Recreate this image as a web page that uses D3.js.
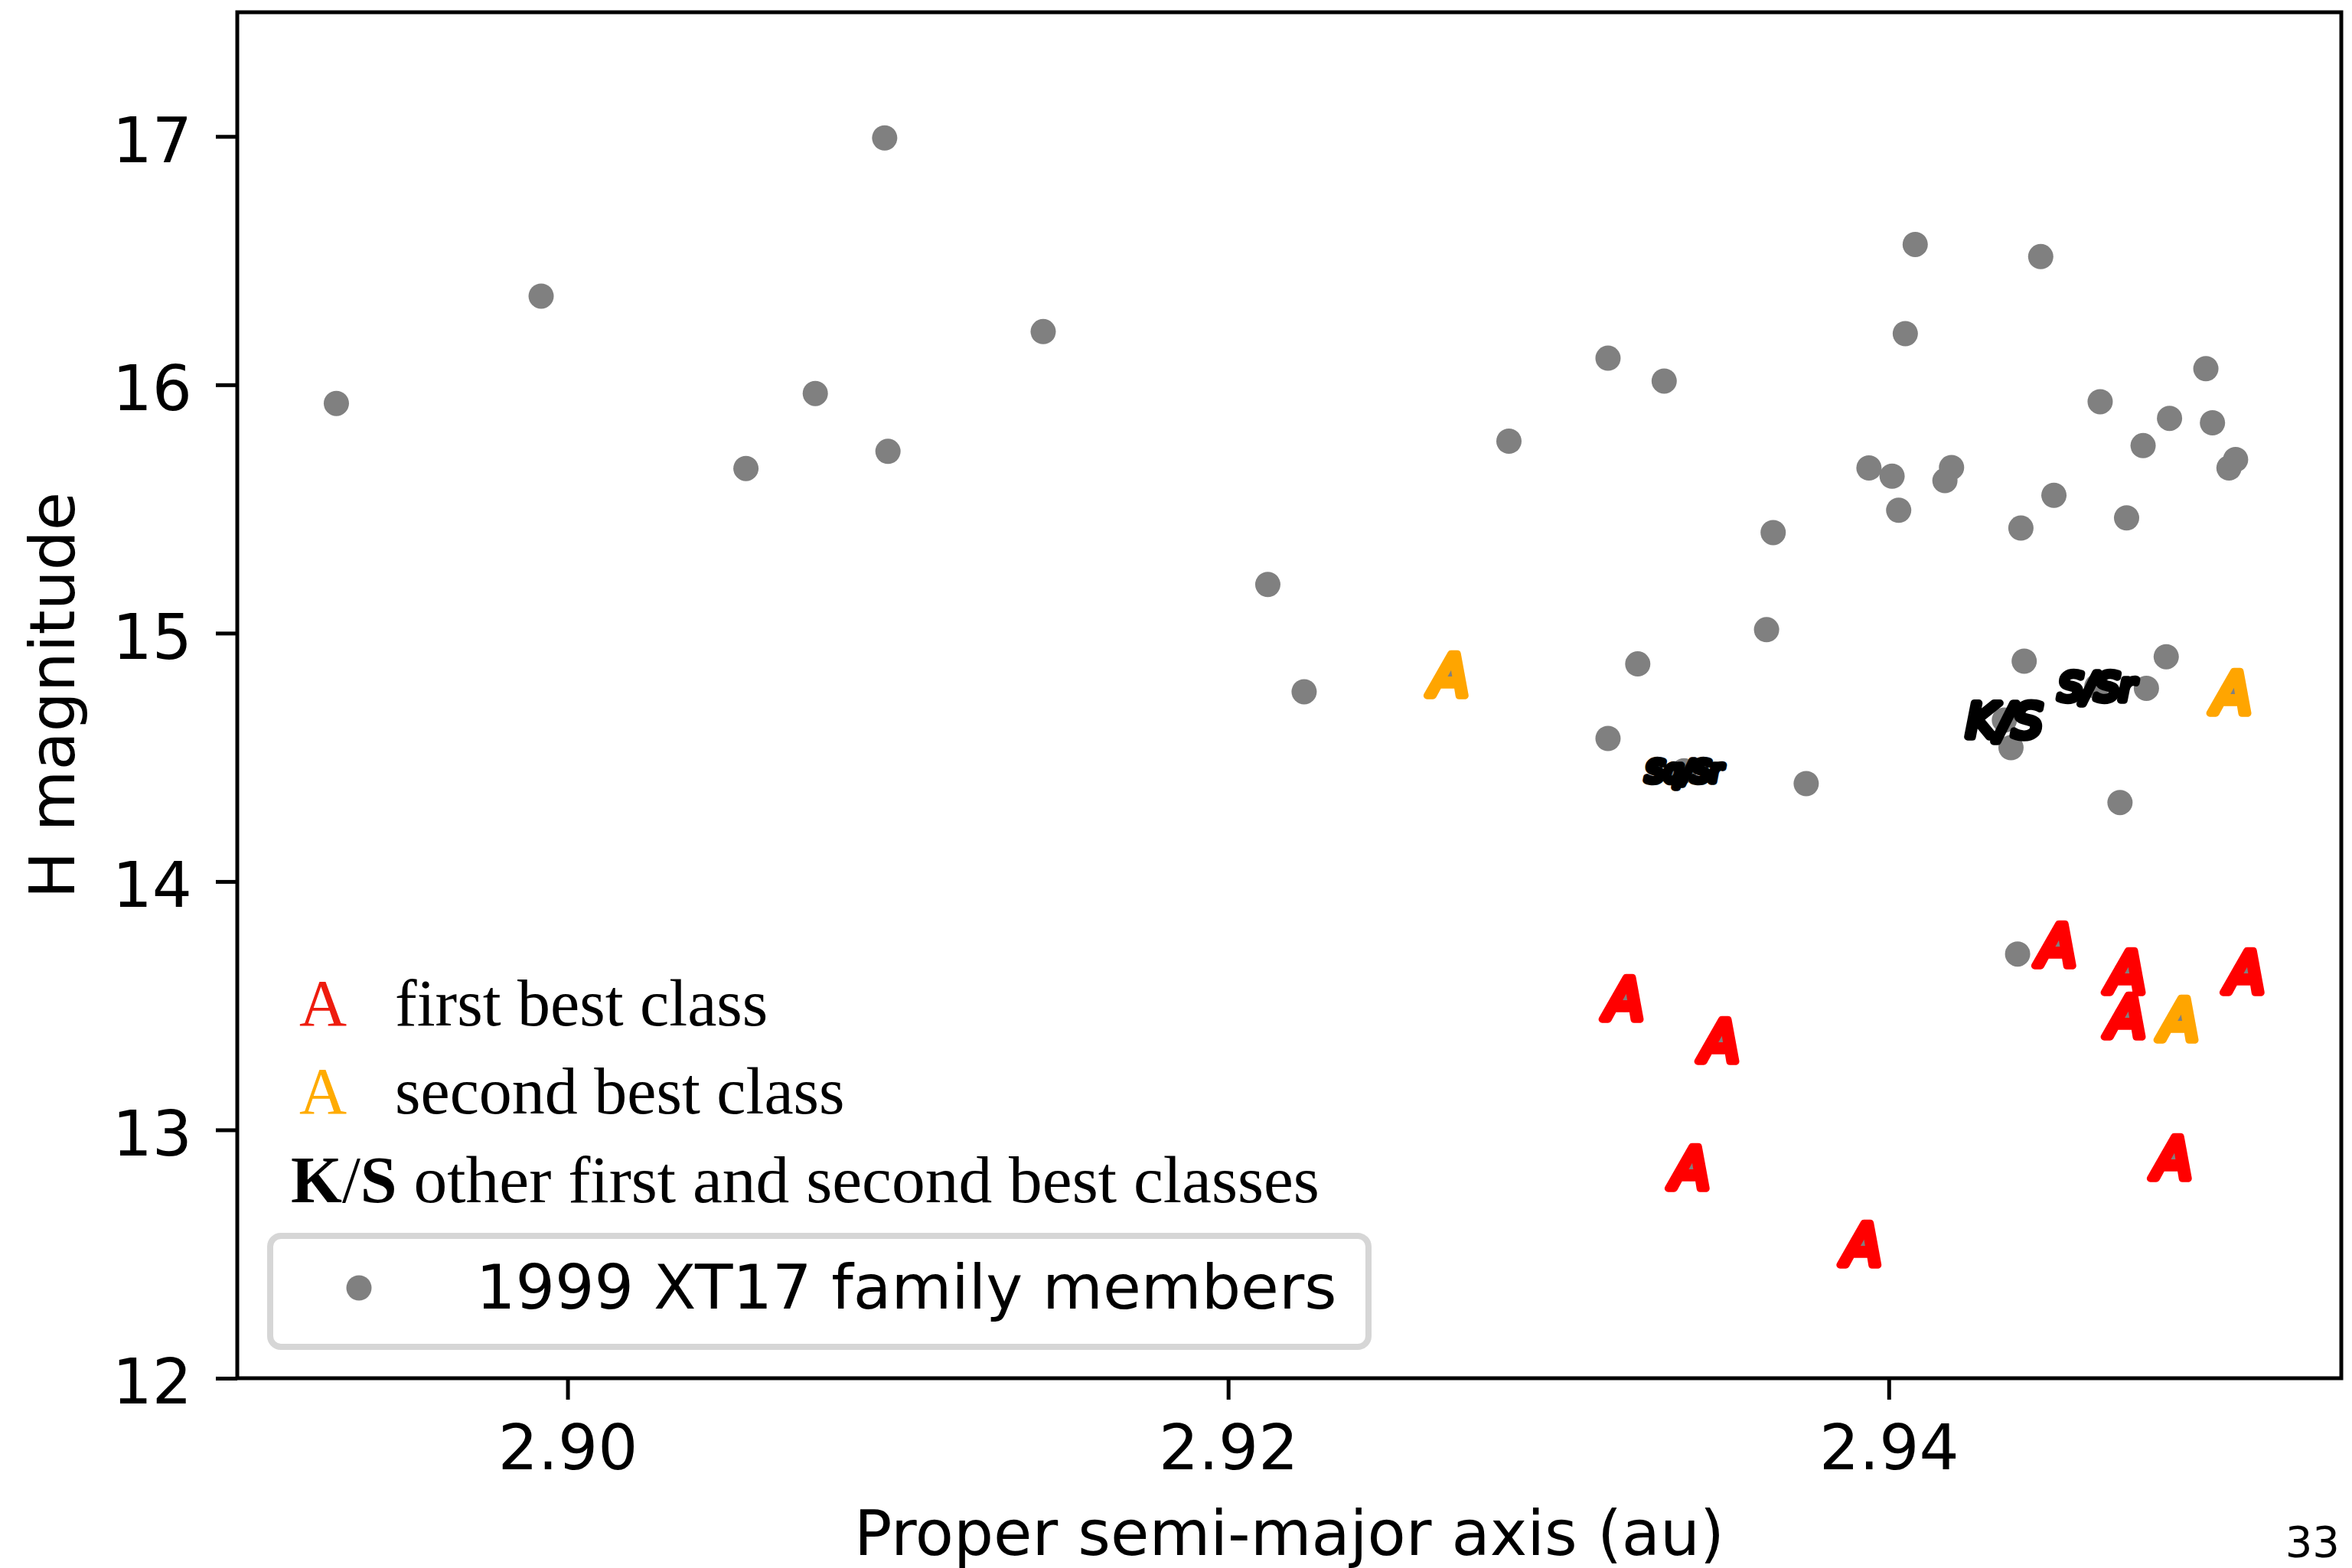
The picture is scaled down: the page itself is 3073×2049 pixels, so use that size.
<!DOCTYPE html>
<html>
<head>
<meta charset="utf-8">
<script src="https://cdn.jsdelivr.net/npm/d3@7"></script>
<style>
  html, body { margin: 0; padding: 0; background: #fff; }
  svg { display: block; }
</style>
</head>
<body>
<svg id="chart" width="3073" height="2049"></svg>
<script>
// Family members without a taxonomic class: proper semi-major axis (au) and H magnitude
const plainA = [2.8930, 2.8992, 2.9054, 2.9075, 2.9096, 2.9097, 2.9144, 2.9212, 2.9223, 2.9285,
                2.9315, 2.9332, 2.9324, 2.9315, 2.9363, 2.9365, 2.9375, 2.9394, 2.9401, 2.9403,
                2.9405, 2.9408, 2.9417, 2.9419, 2.9439, 2.9437, 2.9440, 2.9441, 2.9446, 2.9450,
                2.9464, 2.9470, 2.9472, 2.9477, 2.9478, 2.9484, 2.9485, 2.9496, 2.9498, 2.9503,
                2.9505];
const plainH = [15.925, 16.357, 15.663, 15.965, 16.994, 15.732, 16.214, 15.196, 14.764, 15.773,
                16.107, 16.015, 14.876, 14.576, 15.014, 15.405, 14.394, 15.665, 15.632, 15.495,
                16.206, 16.565, 15.614, 15.667, 13.708, 14.539, 15.423, 14.887, 16.516, 15.555,
                15.932, 14.318, 15.464, 15.755, 14.778, 14.905, 15.865, 16.065, 15.847, 15.665,
                15.699];

// Family members with a taxonomic class
const classA = [2.9267, 2.9504, 2.9488,
                2.9320, 2.9349, 2.9340, 2.9392, 2.9451, 2.9472, 2.9472, 2.9508, 2.9486,
                2.9338, 2.9463, 2.9435];
const classH = [14.83, 14.76, 13.444,
                13.526, 13.357, 12.845, 12.539, 13.743, 13.636, 13.457, 13.636, 12.887,
                14.446, 14.785, 14.65];
const classLabel = ["A", "A", "A",
                    "A", "A", "A", "A", "A", "A", "A", "A", "A",
                    "Sq/Sr", "S/Sr", "K/S"];
const classRank = ["second", "second", "second",
                   "first", "first", "first", "first", "first", "first", "first", "first", "first",
                   "other", "other", "other"];

const xTicks = [2.90, 2.92, 2.94];
const yTicks = [12, 13, 14, 15, 16, 17];
const xDomain = [2.89, 2.9537];
const yDomain = [12, 17.5];

const rankColor = { first: "#ff0000", second: "#ffa500", other: "#000000" };

const W = 3073, H = 2049;
const plot = { left: 310, right: 3059, top: 16, bottom: 1801 };

const svg = d3.select("#chart");
svg.append("rect").attr("width", W).attr("height", H).attr("fill", "#fff");

const x = d3.scaleLinear().domain(xDomain).range([plot.left, plot.right]);
const y = d3.scaleLinear().domain(yDomain).range([plot.bottom, plot.top]);

const sans = "'DejaVu Sans', 'Noto Sans', sans-serif";
const serif = "'Liberation Serif', 'DejaVu Serif', serif";

// Axes
const xAxis = d3.axisBottom(x).tickValues(xTicks).tickFormat(d3.format(".2f"))
  .tickSize(28).tickPadding(33);
const yAxis = d3.axisLeft(y).tickValues(yTicks).tickFormat(d3.format("d"))
  .tickSize(28).tickPadding(31);

const gx = svg.append("g").attr("transform", `translate(0,${plot.bottom})`).call(xAxis);
const gy = svg.append("g").attr("transform", `translate(${plot.left},0)`).call(yAxis);
[gx, gy].forEach(g => {
  g.select(".domain").remove();
  g.selectAll(".tick line").attr("stroke", "#000").attr("stroke-width", 5);
  g.selectAll(".tick text").attr("fill", "#000")
    .style("font-family", sans).style("font-size", "82px");
});
gy.selectAll(".tick text").attr("dy", "0.40em");

// Members
const members = plainA.map((a, i) => ({ a, h: plainH[i] }))
  .concat(classA.map((a, i) => ({ a, h: classH[i] })));

svg.append("g").selectAll("circle").data(members).join("circle")
  .attr("cx", d => x(d.a)).attr("cy", d => y(d.h)).attr("r", 16.5)
  .attr("fill", "#808080");

// Taxonomic class markers
const classed = classA.map((a, i) => ({ a, h: classH[i], label: classLabel[i], rank: classRank[i] }));
const marks = svg.append("g").selectAll("text").data(classed).join("text")
  .attr("x", d => x(d.a)).attr("y", d => y(d.h))
  .attr("text-anchor", "middle").attr("dy", "0.36em")
  .style("font-family", sans).style("font-style", "oblique")
  .style("font-size", "100px")
  .attr("fill", d => rankColor[d.rank])
  .attr("stroke", d => rankColor[d.rank]).attr("stroke-width", 9.5)
  .attr("stroke-linejoin", "round").attr("stroke-linecap", "round")
  .text(d => d.label);
// single letters keep a fixed size, longer labels shrink to a common width
marks.each(function (d) {
  const t = d3.select(this);
  if (d.label.length === 1) {
    t.style("font-size", "74px");
  } else {
    const len = this.getComputedTextLength();
    t.style("font-size", (100 * 99 / len).toFixed(1) + "px");
  }
});

// Frame
svg.append("rect")
  .attr("x", plot.left).attr("y", plot.top)
  .attr("width", plot.right - plot.left).attr("height", plot.bottom - plot.top)
  .attr("fill", "none").attr("stroke", "#000").attr("stroke-width", 5);

// Axis titles
svg.append("text").attr("x", (plot.left + plot.right) / 2).attr("y", 2032)
  .attr("text-anchor", "middle").style("font-family", sans).style("font-size", "82px")
  .text("Proper semi-major axis (au)");
svg.append("text")
  .attr("transform", `translate(97,${(plot.top + plot.bottom) / 2}) rotate(-90)`)
  .attr("text-anchor", "middle").style("font-family", sans).style("font-size", "82px")
  .text("H magnitude");

// Class key
const key = svg.append("g").style("font-family", serif).style("font-size", "86px");
key.append("text").attr("x", 422).attr("y", 1340).attr("text-anchor", "middle")
  .attr("fill", "#ee1c0e").text("A");
key.append("text").attr("x", 516).attr("y", 1340).text("first best class");
key.append("text").attr("x", 422).attr("y", 1455).attr("text-anchor", "middle")
  .attr("fill", "#ffab00").text("A");
key.append("text").attr("x", 516).attr("y", 1455).text("second best class");
const ks = key.append("text").attr("x", 380).attr("y", 1571);
ks.append("tspan").style("font-weight", "bold").text("K");
ks.append("tspan").text("/");
ks.append("tspan").style("font-weight", "bold").text("S");
ks.append("tspan").style("font-size", "87.5px").text(" other first and second best classes");

// Legend box for the family members
const lg = svg.append("g");
lg.append("rect").attr("x", 353).attr("y", 1615).attr("width", 1435).attr("height", 145)
  .attr("rx", 14).attr("fill", "#fff").attr("stroke", "#d6d6d6").attr("stroke-width", 8);
lg.append("circle").attr("cx", 469).attr("cy", 1683).attr("r", 16.5).attr("fill", "#808080");
lg.append("text").attr("x", 622).attr("y", 1710).style("font-family", sans)
  .style("font-size", "81px").text("1999 XT17 family members");

// Page number
svg.append("text").attr("x", 3057).attr("y", 2034).attr("text-anchor", "end")
  .style("font-family", sans).style("font-size", "56px").text("33");
</script>
</body>
</html>
